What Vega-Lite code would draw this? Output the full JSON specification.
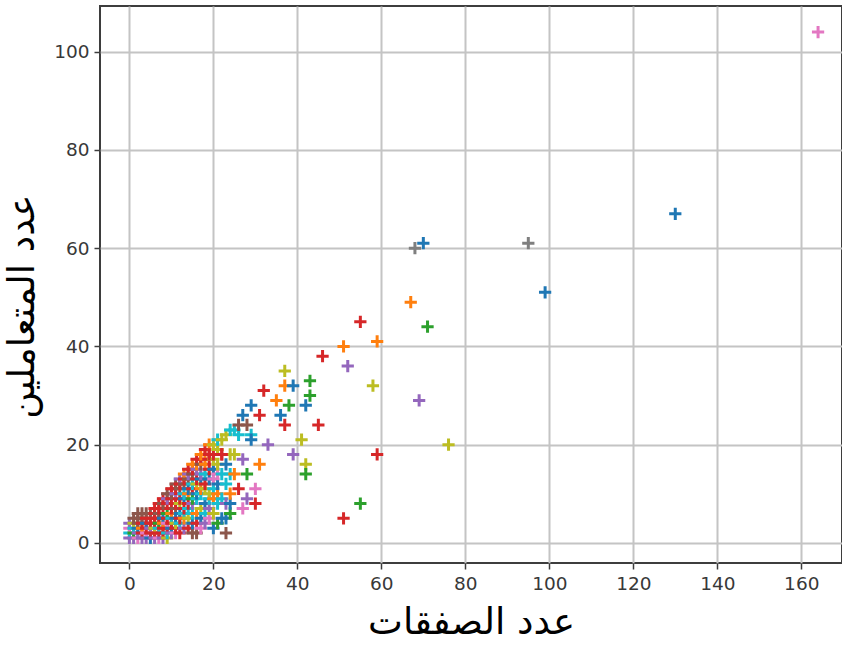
{
"$schema": "https://vega.github.io/schema/vega-lite/v6.json",
"width": 742, "height": 557,
"autosize": {"type": "none"},
"padding": {"left": 100, "top": 6, "right": 0, "bottom": 82},
"background": "white",
"config": {
  "view": {"stroke": "#3d3d3d", "strokeWidth": 2},
  "axis": {"domain": false, "grid": true, "gridColor": "#c4c4c4", "gridWidth": 2, "tickColor": "#3d3d3d", "tickWidth": 1.5, "tickSize": 6, "labelFont": "DejaVu Sans", "labelFontSize": 18.5, "labelColor": "#383838", "labelPadding": 5, "titleFont": "DejaVu Sans", "titleFontSize": 37, "titleFontWeight": "normal", "titleColor": "#000000"}
},
"data": {"values": [
{"x":0,"y":1,"g":"c4"},{"x":0,"y":2,"g":"c9"},{"x":0,"y":3,"g":"c6"},{"x":0,"y":4,"g":"c4"},
{"x":1,"y":1,"g":"c4"},{"x":1,"y":2,"g":"c2"},{"x":1,"y":3,"g":"c9"},{"x":1,"y":4,"g":"c8"},{"x":1,"y":5,"g":"c5"},
{"x":2,"y":1,"g":"c6"},{"x":2,"y":2,"g":"c4"},{"x":2,"y":3,"g":"c0"},{"x":2,"y":4,"g":"c5"},{"x":2,"y":5,"g":"c5"},{"x":2,"y":6,"g":"c5"},
{"x":3,"y":1,"g":"c4"},{"x":3,"y":2,"g":"c3"},{"x":3,"y":3,"g":"c1"},{"x":3,"y":4,"g":"c3"},{"x":3,"y":5,"g":"c5"},{"x":3,"y":6,"g":"c5"},
{"x":4,"y":1,"g":"c4"},{"x":4,"y":2,"g":"c6"},{"x":4,"y":3,"g":"c3"},{"x":4,"y":4,"g":"c0"},{"x":4,"y":5,"g":"c3"},{"x":4,"y":6,"g":"c5"},
{"x":5,"y":1,"g":"c0"},{"x":5,"y":2,"g":"c3"},{"x":5,"y":3,"g":"c4"},{"x":5,"y":4,"g":"c3"},{"x":5,"y":5,"g":"c3"},{"x":5,"y":6,"g":"c5"},
{"x":6,"y":1,"g":"c4"},{"x":6,"y":2,"g":"c3"},{"x":6,"y":3,"g":"c8"},{"x":6,"y":4,"g":"c3"},{"x":6,"y":5,"g":"c3"},{"x":6,"y":6,"g":"c3"},{"x":6,"y":7,"g":"c3"},
{"x":7,"y":1,"g":"c6"},{"x":7,"y":2,"g":"c3"},{"x":7,"y":3,"g":"c9"},{"x":7,"y":4,"g":"c2"},{"x":7,"y":5,"g":"c3"},{"x":7,"y":6,"g":"c5"},{"x":7,"y":7,"g":"c3"},{"x":7,"y":8,"g":"c3"},
{"x":8,"y":1,"g":"c4"},{"x":8,"y":2,"g":"c3"},{"x":8,"y":3,"g":"c3"},{"x":8,"y":4,"g":"c1"},{"x":8,"y":5,"g":"c0"},{"x":8,"y":7,"g":"c3"},{"x":8,"y":8,"g":"c5"},{"x":8,"y":9,"g":"c3"},
{"x":9,"y":1,"g":"c8"},{"x":9,"y":2,"g":"c9"},{"x":9,"y":3,"g":"c3"},{"x":9,"y":4,"g":"c6"},{"x":9,"y":5,"g":"c3"},{"x":9,"y":6,"g":"c2"},{"x":9,"y":8,"g":"c3"},{"x":9,"y":9,"g":"c4"},{"x":9,"y":10,"g":"c5"},
{"x":10,"y":2,"g":"c4"},{"x":10,"y":3,"g":"c0"},{"x":10,"y":4,"g":"c3"},{"x":10,"y":5,"g":"c9"},{"x":10,"y":6,"g":"c1"},{"x":10,"y":7,"g":"c3"},{"x":10,"y":9,"g":"c3"},{"x":10,"y":10,"g":"c5"},{"x":10,"y":11,"g":"c3"},
{"x":11,"y":2,"g":"c6"},{"x":11,"y":3,"g":"c3"},{"x":11,"y":4,"g":"c8"},{"x":11,"y":5,"g":"c0"},{"x":11,"y":7,"g":"c5"},{"x":11,"y":8,"g":"c3"},{"x":11,"y":10,"g":"c4"},{"x":11,"y":11,"g":"c3"},{"x":11,"y":12,"g":"c5"},
{"x":12,"y":2,"g":"c3"},{"x":12,"y":4,"g":"c9"},{"x":12,"y":5,"g":"c3"},{"x":12,"y":6,"g":"c0"},{"x":12,"y":8,"g":"c8"},{"x":12,"y":9,"g":"c3"},{"x":12,"y":11,"g":"c5"},{"x":12,"y":12,"g":"c3"},{"x":12,"y":13,"g":"c4"},
{"x":13,"y":3,"g":"c4"},{"x":13,"y":5,"g":"c1"},{"x":13,"y":6,"g":"c9"},{"x":13,"y":7,"g":"c3"},{"x":13,"y":9,"g":"c0"},{"x":13,"y":10,"g":"c9"},{"x":13,"y":12,"g":"c5"},{"x":13,"y":13,"g":"c3"},{"x":13,"y":14,"g":"c1"},
{"x":14,"y":3,"g":"c3"},{"x":14,"y":5,"g":"c8"},{"x":14,"y":7,"g":"c9"},{"x":14,"y":8,"g":"c3"},{"x":14,"y":10,"g":"c1"},{"x":14,"y":11,"g":"c0"},{"x":14,"y":13,"g":"c5"},{"x":14,"y":14,"g":"c4"},{"x":14,"y":15,"g":"c3"},
{"x":15,"y":2,"g":"c5"},{"x":15,"y":4,"g":"c0"},{"x":15,"y":6,"g":"c9"},{"x":15,"y":8,"g":"c4"},{"x":15,"y":9,"g":"c2"},{"x":15,"y":11,"g":"c3"},{"x":15,"y":12,"g":"c9"},{"x":15,"y":14,"g":"c5"},{"x":15,"y":15,"g":"c3"},{"x":15,"y":16,"g":"c1"},
{"x":16,"y":2,"g":"c5"},{"x":16,"y":4,"g":"c3"},{"x":16,"y":6,"g":"c1"},{"x":16,"y":9,"g":"c9"},{"x":16,"y":10,"g":"c0"},{"x":16,"y":12,"g":"c8"},{"x":16,"y":13,"g":"c3"},{"x":16,"y":15,"g":"c4"},{"x":16,"y":16,"g":"c1"},{"x":16,"y":17,"g":"c3"},
{"x":17,"y":3,"g":"c6"},{"x":17,"y":5,"g":"c0"},{"x":17,"y":7,"g":"c8"},{"x":17,"y":10,"g":"c9"},{"x":17,"y":11,"g":"c1"},{"x":17,"y":13,"g":"c0"},{"x":17,"y":14,"g":"c4"},{"x":17,"y":16,"g":"c5"},{"x":17,"y":17,"g":"c3"},{"x":17,"y":18,"g":"c1"},
{"x":18,"y":4,"g":"c4"},{"x":18,"y":6,"g":"c9"},{"x":18,"y":8,"g":"c0"},{"x":18,"y":11,"g":"c8"},{"x":18,"y":12,"g":"c3"},{"x":18,"y":14,"g":"c9"},{"x":18,"y":16,"g":"c1"},{"x":18,"y":18,"g":"c1"},{"x":18,"y":19,"g":"c3"},
{"x":19,"y":5,"g":"c6"},{"x":19,"y":7,"g":"c4"},{"x":19,"y":9,"g":"c9"},{"x":19,"y":10,"g":"c8"},{"x":19,"y":13,"g":"c0"},{"x":19,"y":15,"g":"c3"},{"x":19,"y":17,"g":"c3"},{"x":19,"y":18,"g":"c3"},{"x":19,"y":20,"g":"c1"},
{"x":20,"y":3,"g":"c0"},{"x":20,"y":6,"g":"c8"},{"x":20,"y":9,"g":"c1"},{"x":20,"y":11,"g":"c9"},{"x":20,"y":13,"g":"c6"},{"x":20,"y":15,"g":"c0"},{"x":20,"y":17,"g":"c8"},{"x":20,"y":18,"g":"c3"},{"x":20,"y":20,"g":"c8"},
{"x":21,"y":4,"g":"c2"},{"x":21,"y":8,"g":"c9"},{"x":21,"y":10,"g":"c1"},{"x":21,"y":12,"g":"c0"},{"x":21,"y":14,"g":"c6"},{"x":21,"y":16,"g":"c8"},{"x":21,"y":19,"g":"c8"},{"x":21,"y":21,"g":"c9"},
{"x":22,"y":5,"g":"c0"},{"x":22,"y":9,"g":"c9"},{"x":22,"y":14,"g":"c9"},{"x":22,"y":18,"g":"c3"},{"x":22,"y":21,"g":"c8"},
{"x":23,"y":2,"g":"c5"},{"x":23,"y":5,"g":"c0"},{"x":23,"y":8,"g":"c4"},{"x":23,"y":12,"g":"c9"},{"x":23,"y":16,"g":"c0"},{"x":23,"y":22,"g":"c8"},
{"x":24,"y":6,"g":"c2"},{"x":24,"y":8,"g":"c0"},{"x":24,"y":10,"g":"c1"},{"x":24,"y":14,"g":"c9"},{"x":24,"y":18,"g":"c8"},{"x":24,"y":23,"g":"c9"},
{"x":25,"y":14,"g":"c1"},{"x":25,"y":18,"g":"c8"},{"x":25,"y":23,"g":"c9"},{"x":26,"y":22,"g":"c9"},{"x":26,"y":24,"g":"c5"},{"x":27,"y":26,"g":"c0"},{"x":28,"y":24,"g":"c5"},{"x":29,"y":22,"g":"c9"},{"x":29,"y":21,"g":"c0"},
{"x":29,"y":28,"g":"c0"},{"x":31,"y":26,"g":"c3"},{"x":36,"y":26,"g":"c0"},{"x":32,"y":31,"g":"c3"},{"x":37,"y":32,"g":"c1"},{"x":39,"y":32,"g":"c0"},{"x":43,"y":33,"g":"c2"},{"x":35,"y":29,"g":"c1"},{"x":38,"y":28,"g":"c2"},{"x":43,"y":30,"g":"c2"},{"x":42,"y":28,"g":"c0"},{"x":37,"y":24,"g":"c3"},{"x":45,"y":24,"g":"c3"},
{"x":33,"y":20,"g":"c4"},{"x":41,"y":21,"g":"c8"},{"x":39,"y":18,"g":"c4"},{"x":42,"y":16,"g":"c8"},{"x":42,"y":14,"g":"c2"},{"x":31,"y":16,"g":"c1"},{"x":27,"y":17,"g":"c4"},{"x":28,"y":14,"g":"c2"},{"x":26,"y":11,"g":"c3"},{"x":30,"y":11,"g":"c6"},{"x":30,"y":8,"g":"c3"},{"x":28,"y":9,"g":"c4"},{"x":27,"y":7,"g":"c6"},{"x":22,"y":18,"g":"c3"},{"x":19,"y":18,"g":"c3"},
{"x":37,"y":35,"g":"c8"},{"x":46,"y":38,"g":"c3"},{"x":51,"y":40,"g":"c1"},{"x":52,"y":36,"g":"c4"},{"x":55,"y":45,"g":"c3"},{"x":59,"y":41,"g":"c1"},{"x":58,"y":32,"g":"c8"},{"x":67,"y":49,"g":"c1"},{"x":71,"y":44,"g":"c2"},{"x":68,"y":60,"g":"c7"},{"x":70,"y":61,"g":"c0"},{"x":95,"y":61,"g":"c7"},{"x":99,"y":51,"g":"c0"},{"x":130,"y":67,"g":"c0"},{"x":164,"y":104,"g":"c6"},
{"x":69,"y":29,"g":"c4"},{"x":76,"y":20,"g":"c8"},{"x":59,"y":18,"g":"c3"},{"x":55,"y":8,"g":"c2"},{"x":51,"y":5,"g":"c3"}
]},
"mark": {"type": "point", "shape": "M-1,0H1M0,-1V1", "filled": false, "strokeWidth": 3, "size": 150, "opacity": 1},
"encoding": {
  "x": {"field": "x", "type": "quantitative", "scale": {"domain": [-7, 169.7], "nice": false, "zero": false}, "axis": {"values": [0,20,40,60,80,100,120,140,160], "title": "عدد الصفقات", "titlePadding": 12}},
  "y": {"field": "y", "type": "quantitative", "scale": {"domain": [-4.1, 109.3], "nice": false, "zero": false}, "axis": {"values": [0,20,40,60,80,100], "title": "عدد المتعاملين", "titlePadding": 12, "titleY": 300}},
  "color": {"field": "g", "type": "nominal", "legend": null, "scale": {"domain": ["c0","c1","c2","c3","c4","c5","c6","c7","c8","c9"], "range": ["#1f77b4","#ff7f0e","#2ca02c","#d62728","#9467bd","#8c564b","#e377c2","#7f7f7f","#bcbd22","#17becf"]}}
}
}
